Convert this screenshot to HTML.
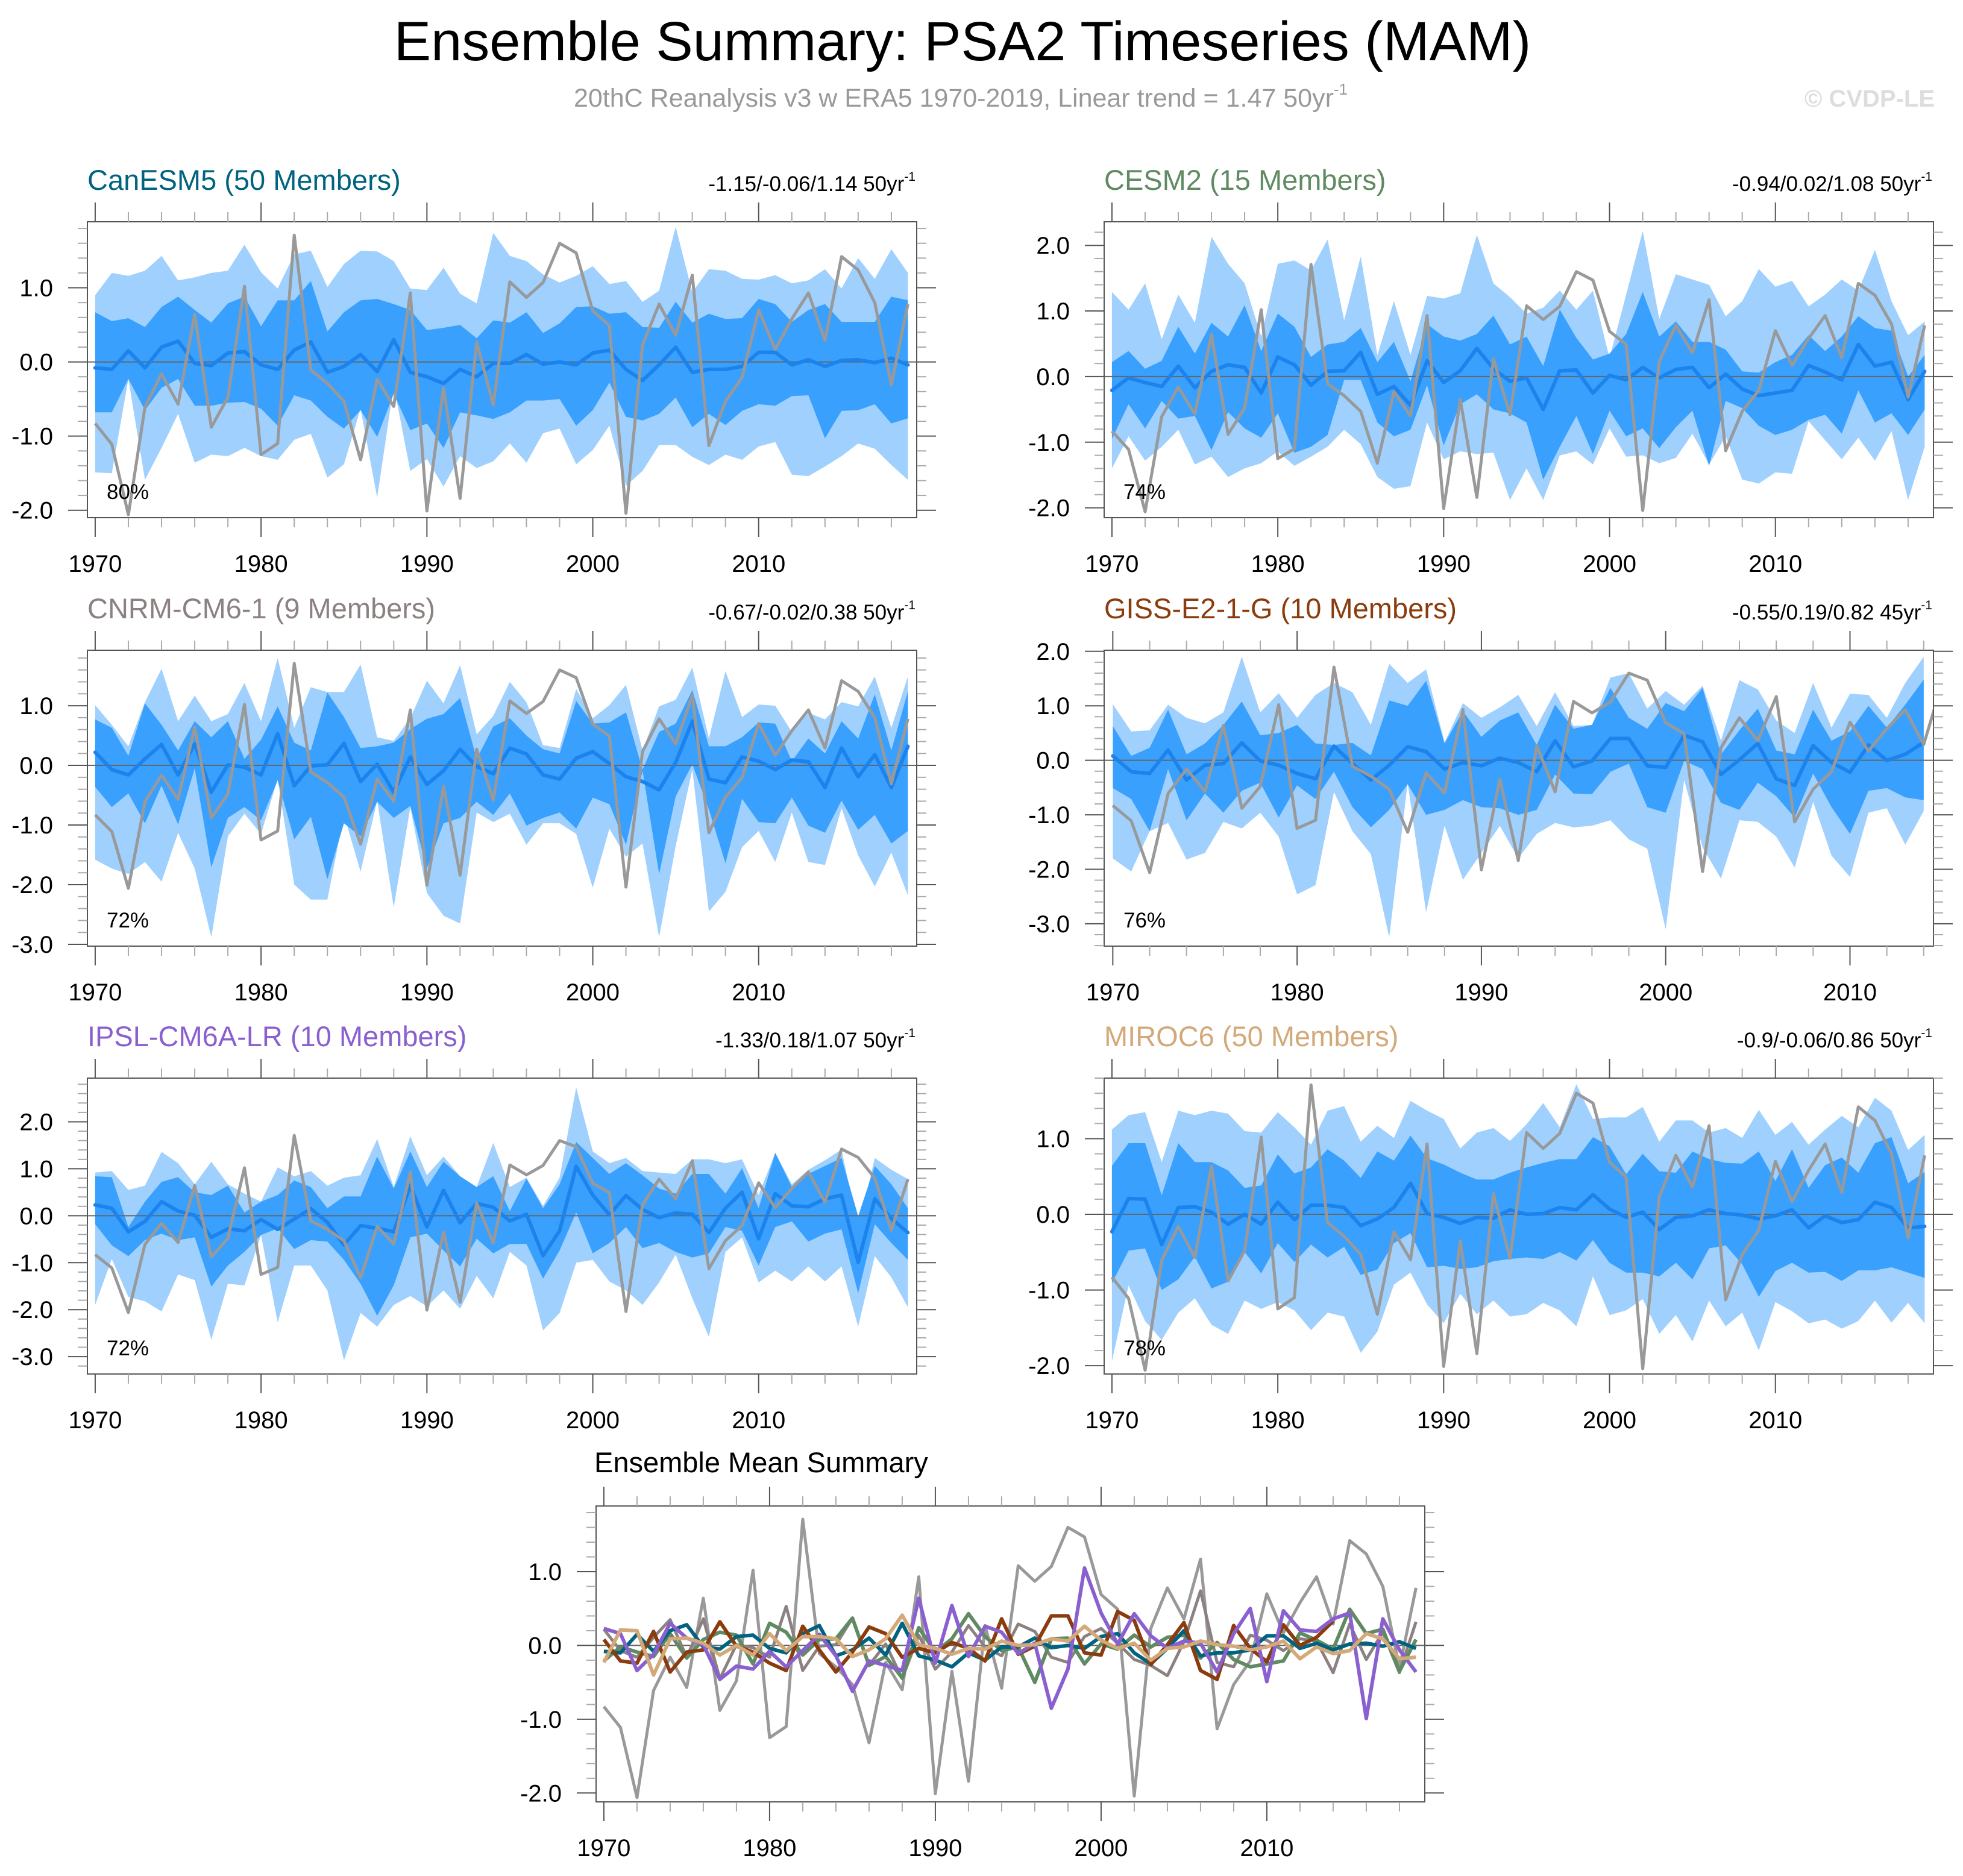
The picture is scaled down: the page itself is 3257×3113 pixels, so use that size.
<!DOCTYPE html>
<html><head><meta charset="utf-8"><title>Ensemble Summary: PSA2 Timeseries (MAM)</title>
<style>
html,body{margin:0;padding:0;background:#fff;}
svg{display:block;font-family:"Liberation Sans",Arial,sans-serif;}
</style></head>
<body>
<svg id="chart" xmlns="http://www.w3.org/2000/svg" width="3257" height="3113" viewBox="0 0 3257 3113">
<rect x="0" y="0" width="3257" height="3113" fill="#fff"/>
<text x="1597" y="100" font-size="92" text-anchor="middle" fill="#000">Ensemble Summary: PSA2 Timeseries (MAM)</text>
<text x="1594" y="177" font-size="43" text-anchor="middle" fill="#999">20thC Reanalysis v3 w ERA5 1970-2019, Linear trend = 1.47 50yr<tspan font-size="26" dy="-20">-1</tspan></text>
<text x="3210" y="177" font-size="40" font-weight="bold" text-anchor="end" fill="#ddd">© CVDP-LE</text>
<g id="panels"></g>
</svg>
<script>
const years = Array.from({length:50},(_,i)=>1970+i);
const obs = [-0.83,-1.11,-2.06,-0.61,-0.16,-0.57,0.64,-0.88,-0.48,1.02,-1.25,-1.10,1.71,-0.11,-0.29,-0.53,-1.32,-0.23,-0.60,0.93,-2.01,-0.35,-1.84,0.27,-0.58,1.08,0.87,1.07,1.60,1.47,0.69,0.49,-2.04,0.23,0.78,0.36,1.17,-1.13,-0.53,-0.21,0.70,0.17,0.58,0.93,0.29,1.42,1.24,0.80,-0.31,0.78];

const canMean = [-0.08,-0.10,0.15,-0.08,0.20,0.28,-0.02,-0.05,0.12,0.14,-0.04,-0.10,0.16,0.27,-0.14,-0.06,0.10,-0.13,0.30,-0.14,-0.20,-0.29,-0.10,-0.20,-0.02,-0.02,0.10,-0.03,0.00,-0.04,0.12,0.16,-0.10,-0.25,-0.04,0.20,-0.14,-0.10,-0.10,-0.06,0.13,0.13,-0.04,0.03,-0.06,0.02,0.03,-0.01,0.05,-0.04];
const canDarkHi = [0.67,0.55,0.59,0.47,0.74,0.88,0.70,0.53,0.79,0.88,0.48,0.83,0.83,1.09,0.41,0.67,0.83,0.85,0.78,0.70,0.43,0.46,0.50,0.32,0.56,0.53,0.67,0.39,0.52,0.74,0.75,0.65,0.67,0.47,0.46,0.81,0.53,0.65,0.58,0.59,0.85,0.78,0.54,0.70,0.78,0.54,0.54,0.54,0.88,0.83];
const canDarkLo = [-0.68,-0.68,-0.23,-0.65,-0.35,-0.23,-0.59,-0.59,-0.55,-0.54,-0.63,-0.86,-0.45,-0.52,-0.74,-0.90,-0.65,-1.01,-0.43,-0.92,-0.83,-1.16,-0.68,-0.72,-0.77,-0.68,-0.52,-0.52,-0.50,-0.86,-0.65,-0.28,-0.74,-0.79,-0.70,-0.48,-0.88,-0.70,-0.85,-0.66,-0.57,-0.59,-0.46,-0.45,-1.03,-0.66,-0.65,-0.57,-0.83,-0.76];
const canLightHi = [0.90,1.20,1.16,1.23,1.43,1.10,1.14,1.20,1.23,1.58,1.21,0.99,1.45,1.50,1.01,1.32,1.50,1.49,1.36,0.99,0.97,1.27,0.92,0.79,1.74,1.43,1.36,1.18,1.07,1.16,1.29,1.05,1.09,0.81,0.96,1.82,0.94,1.25,1.23,1.12,1.11,1.17,1.06,1.10,1.25,0.99,1.40,1.12,1.52,1.20];
const canLightLo = [-1.49,-1.50,-0.23,-1.59,-1.16,-0.70,-1.36,-1.25,-1.27,-1.16,-1.27,-1.32,-1.05,-0.97,-1.56,-1.38,-0.63,-1.83,-0.32,-1.47,-1.31,-1.68,-1.27,-1.43,-1.34,-1.10,-1.36,-0.96,-0.90,-1.38,-1.19,-0.86,-1.67,-1.47,-1.12,-1.12,-1.28,-1.39,-1.25,-1.32,-1.14,-1.08,-1.52,-1.54,-1.41,-1.27,-1.10,-1.17,-1.39,-1.59];

const cesmMean = [-0.21,-0.02,-0.09,-0.15,0.16,-0.17,0.08,0.18,0.14,-0.25,0.30,0.18,-0.13,0.08,0.09,0.37,-0.27,-0.15,-0.44,0.24,-0.09,0.09,0.43,0.12,-0.07,-0.02,-0.50,0.09,0.10,-0.25,0.02,-0.05,0.14,-0.02,0.11,0.14,-0.17,0.04,-0.19,-0.29,-0.25,-0.21,0.17,0.07,-0.05,0.49,0.16,0.22,-0.35,0.08];
const cesmDarkHi = [0.22,0.39,0.12,0.24,0.76,0.35,0.82,0.61,1.09,0.39,0.96,0.76,0.30,0.49,0.53,0.74,0.22,0.53,-0.07,0.80,0.61,0.55,0.65,0.93,0.49,0.61,0.16,1.02,0.59,0.26,0.35,0.65,1.29,0.61,0.84,0.53,0.53,0.41,0.08,0.06,0.22,0.33,0.63,0.39,0.61,0.92,0.74,0.70,0.00,0.33];
const cesmDarkLo = [-0.95,-0.42,-0.79,-0.37,-0.64,-0.60,-1.12,-0.54,-0.79,-0.93,-0.56,-1.16,-1.07,-0.89,-0.05,-0.05,-0.70,-0.91,-0.81,-0.13,-1.05,-0.42,-0.27,-0.50,-0.56,-0.70,-1.57,-1.07,-0.60,-1.18,-0.52,-0.91,-0.79,-1.09,-0.77,-0.52,-1.36,-0.37,-0.48,-0.75,-0.89,-0.81,-0.66,-0.58,-0.87,-0.21,-0.70,-0.56,-0.89,-0.50];
const cesmLightHi = [1.29,1.02,1.42,0.57,1.25,0.82,2.13,1.72,1.42,0.61,1.72,1.77,1.62,2.09,0.86,1.83,0.33,1.15,0.33,1.23,1.19,1.27,2.16,1.42,1.21,0.96,1.05,1.31,1.02,1.31,0.28,1.25,2.22,0.88,1.56,1.48,1.40,0.92,1.15,1.64,1.37,1.46,1.07,1.25,1.48,1.31,1.93,1.15,0.63,0.84];
const cesmLightLo = [-1.40,-0.91,-1.28,-1.07,-0.81,-1.34,-1.22,-1.53,-1.40,-1.32,-1.14,-1.36,-1.22,-1.07,-0.81,-1.03,-1.53,-1.71,-1.67,-0.70,-1.26,-1.14,-1.18,-1.16,-1.88,-1.40,-1.88,-1.20,-1.14,-1.34,-0.79,-1.22,-1.20,-1.32,-1.24,-0.87,-1.34,-0.91,-1.57,-1.63,-1.46,-1.48,-0.68,-0.97,-1.26,-0.93,-1.28,-0.83,-1.88,-1.07];

const cnrmMean = [0.22,-0.07,-0.16,0.11,0.35,-0.16,0.36,-0.45,0.01,-0.03,-0.16,0.53,-0.34,-0.01,0.01,0.37,-0.27,0.02,-0.45,0.14,-0.32,-0.09,0.27,-0.02,-0.14,0.29,0.19,-0.16,-0.23,0.12,0.23,0.03,-0.19,-0.27,-0.41,0.05,0.74,-0.23,-0.29,0.14,0.07,-0.07,0.09,0.06,-0.37,0.29,-0.19,0.18,-0.37,0.32];
const cnrmDarkHi = [0.77,0.63,0.16,1.04,0.68,0.25,0.74,0.47,0.74,0.11,0.43,0.99,0.38,0.25,1.22,0.81,0.29,0.32,0.38,0.61,0.78,0.86,1.13,0.11,0.65,0.79,0.50,0.27,0.20,1.08,0.70,0.72,0.89,-0.07,0.56,0.70,1.26,0.32,0.32,0.47,0.72,0.70,0.07,0.45,0.20,0.74,0.45,1.19,0.25,1.24];
const cnrmDarkLo = [-0.36,-0.70,-0.47,-0.97,-0.34,-0.99,-0.05,-1.71,-0.88,-0.70,-0.92,-0.25,-1.24,-0.86,-1.91,-0.97,-1.19,-0.61,-0.88,-0.68,-1.73,-0.97,-0.88,-0.61,-0.83,-0.47,-1.01,-0.88,-0.79,-1.06,-0.54,-0.65,-1.33,-0.09,-1.82,-0.52,0.02,-0.74,-1.64,-0.56,-0.95,-0.97,-0.54,-1.01,-1.13,-0.59,-1.08,-0.83,-1.31,-1.10];
const cnrmLightHi = [1.01,0.68,0.32,1.06,1.62,0.74,1.17,0.74,0.86,1.38,0.74,1.80,0.63,1.31,1.23,1.23,1.69,0.47,0.41,0.79,1.42,1.04,1.68,0.52,0.83,1.40,1.06,0.34,0.29,1.28,0.79,1.01,1.35,0.25,0.99,1.10,1.64,0.45,1.58,0.81,1.02,1.00,0.56,0.88,0.77,1.06,0.99,1.49,0.63,1.49];
const cnrmLightLo = [-1.58,-1.73,-1.82,-1.62,-1.95,-1.13,-1.73,-2.88,-1.19,-0.81,-1.15,-0.23,-2.00,-2.25,-2.25,-0.83,-1.78,-0.59,-2.38,-0.70,-2.14,-2.52,-2.65,-0.79,-0.95,-0.81,-1.33,-0.97,-0.97,-1.15,-2.05,-1.06,-1.53,-1.31,-2.88,-1.35,-0.07,-2.45,-2.12,-1.37,-1.10,-1.62,-0.79,-1.62,-1.67,-0.72,-1.51,-2.03,-1.46,-2.18];

const gissMean = [0.08,-0.21,-0.24,0.19,-0.36,-0.09,-0.06,0.32,-0.01,-0.09,-0.24,-0.34,0.26,-0.06,-0.36,-0.09,0.25,0.16,-0.16,-0.04,-0.10,0.04,-0.04,-0.21,0.36,-0.12,-0.01,0.40,0.40,-0.10,-0.13,0.46,0.34,-0.26,0.01,0.31,-0.34,-0.46,0.27,-0.04,-0.22,0.28,0.00,0.11,0.33];
const gissDarkHi = [0.63,0.08,0.23,0.93,0.11,0.31,0.65,1.08,0.46,0.50,0.65,0.31,0.28,0.32,0.09,1.10,1.00,1.46,0.31,0.90,0.43,0.73,0.88,0.28,1.02,0.58,0.65,1.33,0.78,0.58,1.05,0.90,1.33,0.11,0.55,0.95,0.18,0.11,0.93,0.36,0.53,1.00,0.60,1.02,1.48];
const gissDarkLo = [-0.51,-0.71,-1.30,-0.16,-1.10,-0.61,-0.96,-0.56,-0.41,-1.05,-0.46,-0.71,-0.21,-0.86,-1.23,-0.91,-0.44,-1.00,-0.91,-0.73,-0.86,-0.88,-1.00,-0.91,-0.26,-0.61,-0.62,-0.21,-0.06,-0.86,-0.96,-0.01,-0.16,-0.78,-0.91,-0.41,-0.66,-1.05,-0.24,-0.86,-1.35,-0.56,-0.51,-0.68,-0.73];
const gissLightHi = [1.03,0.53,0.55,1.02,0.78,0.68,0.88,1.90,0.88,1.23,0.78,1.20,1.42,1.25,0.65,1.77,1.42,1.67,0.33,1.05,0.78,0.97,1.20,0.63,1.25,0.63,0.65,1.52,1.60,0.95,1.27,1.02,1.37,0.36,1.47,1.30,0.73,0.50,1.42,0.60,1.22,1.20,0.78,1.42,1.90];
const gissLightLo = [-1.80,-2.04,-1.30,-1.15,-1.82,-1.70,-1.13,-1.25,-0.96,-1.40,-2.46,-2.29,-0.58,-1.30,-1.72,-3.25,-0.41,-2.79,-1.20,-2.19,-1.70,-1.20,-1.80,-1.35,-1.15,-1.23,-1.20,-1.10,-1.45,-1.62,-3.10,-0.36,-1.60,-2.17,-1.10,-1.13,-1.40,-1.97,-0.76,-1.75,-2.14,-0.96,-0.88,-1.55,-0.93];

const ipslMean = [0.23,0.16,-0.34,-0.12,0.30,0.10,0.01,-0.46,-0.28,-0.32,-0.08,-0.29,-0.07,0.15,-0.14,-0.62,-0.21,-0.27,-0.34,0.64,-0.24,0.54,-0.15,0.26,0.18,-0.11,0.03,-0.85,-0.32,1.05,0.44,0.02,0.43,0.13,-0.04,0.06,0.03,-0.36,0.16,0.50,-0.49,0.47,0.21,0.19,0.36,0.44,-0.99,0.36,-0.06,-0.36];
const ipslDarkHi = [0.84,0.82,-0.24,0.30,0.72,0.82,0.50,0.44,0.64,0.07,0.30,0.44,0.75,0.61,0.16,0.41,0.41,1.26,0.58,1.37,0.61,1.15,0.84,0.61,0.84,0.10,0.79,0.16,0.67,1.57,1.23,0.89,1.12,0.86,0.58,0.47,0.89,0.89,0.47,1.01,0.16,1.34,0.61,0.89,1.06,1.23,-0.01,1.06,0.67,0.16];
const ipslDarkLo = [-0.18,-0.63,-0.86,-0.52,-0.38,-0.52,-0.46,-1.51,-1.06,-0.77,-0.41,-0.27,-0.71,-0.52,-0.55,-0.94,-1.45,-2.13,-1.48,-0.46,-0.38,-0.74,-1.08,-0.49,-0.80,-0.60,-0.60,-1.34,-0.74,0.07,-0.80,-0.58,-0.24,-0.69,-0.58,-0.77,-0.89,-0.80,-0.24,-0.32,-1.06,-0.24,-0.12,-0.55,-0.38,-0.29,-1.65,-0.18,-0.58,-0.94];
const ipslLightHi = [0.92,0.95,0.55,0.64,1.36,1.12,0.67,1.15,0.67,0.47,0.30,1.03,0.84,0.95,0.64,0.81,0.86,1.63,0.61,1.69,0.86,1.26,0.84,0.61,1.55,0.61,0.81,0.21,0.81,2.73,1.37,1.12,1.23,0.95,0.92,0.89,1.20,1.20,1.12,1.20,0.44,1.34,0.67,0.98,1.18,1.41,-0.29,1.23,0.98,0.78];
const ipslLightLo = [-1.90,-0.92,-1.73,-1.82,-2.04,-1.25,-1.37,-2.64,-1.45,-1.48,-0.41,-2.27,-1.06,-1.06,-1.59,-3.08,-2.07,-2.36,-1.90,-1.71,-1.93,-1.59,-1.98,-1.28,-1.76,-0.77,-1.06,-2.44,-2.07,-1.00,-0.94,-1.40,-1.59,-1.90,-1.42,-0.83,-1.76,-2.58,-0.77,-0.46,-1.42,-1.17,-1.40,-1.08,-1.40,-1.08,-2.36,-0.86,-1.31,-1.95];

const mirocMean = [-0.23,0.21,0.20,-0.40,0.09,0.10,0.03,-0.13,0.00,-0.13,0.16,-0.07,0.12,0.12,0.09,-0.15,-0.06,0.09,0.41,0.01,-0.04,-0.12,-0.04,-0.05,0.06,0.00,0.01,0.09,0.06,0.26,0.07,-0.04,0.03,-0.20,-0.04,-0.02,0.06,0.01,-0.01,-0.06,-0.02,0.06,-0.18,-0.02,-0.11,-0.07,0.16,0.09,-0.18,-0.16];
const mirocDarkHi = [0.64,0.94,0.94,0.25,0.94,0.69,0.69,0.58,0.35,0.38,0.79,0.54,0.62,0.86,0.71,0.48,0.83,0.71,1.04,0.74,0.66,0.55,0.46,0.46,0.55,0.62,0.68,0.73,0.73,1.02,0.90,0.53,0.80,0.57,0.55,0.83,0.73,0.68,0.67,0.83,0.44,0.86,0.35,0.65,0.75,0.55,0.94,1.02,0.41,0.56];
const mirocDarkLo = [-0.91,-0.48,-0.45,-1.00,-0.86,-0.56,-0.98,-0.89,-0.50,-0.78,-0.38,-0.63,-0.40,-0.57,-0.43,-0.80,-0.73,-0.38,-0.25,-0.70,-0.68,-0.72,-0.70,-0.62,-0.59,-0.57,-0.59,-0.50,-0.61,-0.34,-0.64,-0.77,-0.77,-0.82,-0.64,-0.86,-0.45,-0.41,-0.66,-1.09,-0.75,-0.64,-0.77,-0.76,-0.88,-0.74,-0.74,-0.70,-0.77,-0.84];
const mirocLightHi = [1.12,1.31,1.35,0.69,1.37,1.31,1.37,1.33,1.10,1.08,1.35,1.15,0.92,1.37,1.43,0.96,1.17,1.01,1.50,1.37,1.26,0.87,1.08,1.14,0.97,1.19,1.47,1.15,1.72,1.26,1.28,1.28,1.42,0.96,1.24,1.24,1.08,1.14,1.01,1.38,1.05,1.22,0.92,1.12,1.30,1.15,1.54,1.37,0.85,1.05];
const mirocLightLo = [-1.94,-0.94,-1.41,-1.66,-1.30,-1.11,-1.46,-1.58,-1.14,-1.25,-1.16,-1.27,-1.53,-1.30,-1.35,-1.83,-1.55,-0.93,-0.77,-1.19,-1.44,-1.05,-1.32,-1.14,-1.35,-1.32,-1.17,-1.27,-1.48,-0.82,-1.33,-1.27,-1.12,-1.58,-1.33,-1.68,-1.14,-1.48,-1.30,-1.80,-1.16,-1.28,-1.44,-1.39,-1.51,-1.41,-1.14,-1.43,-1.17,-1.44];

const modelNames = ["CanESM5 (50 Members)","CESM2 (15 Members)","CNRM-CM6-1 (9 Members)","GISS-E2-1-G (10 Members)","IPSL-CM6A-LR (10 Members)","MIROC6 (50 Members)"];
const trendLabels = ["-1.15/-0.06/1.14 50yr","-0.94/0.02/1.08 50yr","-0.67/-0.02/0.38 50yr","-0.55/0.19/0.82 45yr","-1.33/0.18/1.07 50yr","-0.9/-0.06/0.86 50yr"];
const pctLabels = ["80%","74%","72%","76%","72%","78%"];
const yLimits = [[-2.1,1.89],[-2.15,2.36],[-3.03,1.93],[-3.41,2.02],[-3.37,2.93],[-2.11,1.80]];
const xTickYears = [1970,1980,1990,2000,2010];

const NS="http://www.w3.org/2000/svg";
const root=document.getElementById('panels');
function mk(tag,attrs,parent){const e=document.createElementNS(NS,tag);for(const k in attrs)e.setAttribute(k,attrs[k]);(parent||root).appendChild(e);return e;}

const colors=["#00637f","#5f8a62","#8c8181","#8a3c0e","#8a5fd0","#d3a97a"];
const models=[
 {mean:canMean,dh:canDarkHi,dl:canDarkLo,lh:canLightHi,ll:canLightLo},
 {mean:cesmMean,dh:cesmDarkHi,dl:cesmDarkLo,lh:cesmLightHi,ll:cesmLightLo},
 {mean:cnrmMean,dh:cnrmDarkHi,dl:cnrmDarkLo,lh:cnrmLightHi,ll:cnrmLightLo},
 {mean:gissMean,dh:gissDarkHi,dl:gissDarkLo,lh:gissLightHi,ll:gissLightLo},
 {mean:ipslMean,dh:ipslDarkHi,dl:ipslDarkLo,lh:ipslLightHi,ll:ipslLightLo},
 {mean:mirocMean,dh:mirocDarkHi,dl:mirocDarkLo,lh:mirocLightHi,ll:mirocLightLo}
];
const boxes=[[145,368],[1832,368],[145,1079],[1832,1079],[145,1789],[1832,1789]];
const BW=1376, BH=491;

function axes(g,L,T,W,H,xs,ys,x0,x1,ymin,ymax,name){
  // minor/major y ticks
  for(let k=Math.ceil(ymin/0.2-1e-6);k<=Math.floor(ymax/0.2+1e-6);k++){
    const v=k*0.2, y=ys(v), major=(k%5===0), len=major?32:16;
    const t1=mk('line',{x1:L-len,y1:y,x2:L,y2:y,stroke:major?'#555':'#aaa','stroke-width':2},g);
    
    
    const t2=mk('line',{x1:L+W,y1:y,x2:L+W+len,y2:y,stroke:major?'#555':'#aaa','stroke-width':2},g);
    
    
    if(major){
      const lab=mk('text',{x:L-57,y:y+14,'font-size':40,'text-anchor':'end',fill:'#000'},g);
      
      
      lab.textContent=(Math.abs(v)<1e-9?0:v).toFixed(1);
    }
  }
  for(let yr=1970; yr<=x1; yr+=2){
    const x=xs(yr), major=(yr%10===0), len=major?32:16;
    const a=mk('line',{x1:x,y1:T-len,x2:x,y2:T,stroke:major?'#555':'#aaa','stroke-width':2},g);
    
    
    const b=mk('line',{x1:x,y1:T+H,x2:x,y2:T+H+len,stroke:major?'#555':'#aaa','stroke-width':2},g);
    
    
  }
  xTickYears.forEach(yr=>{
    if(yr>x1) return;
    const lab=mk('text',{x:xs(yr),y:T+H+90,'font-size':40,'text-anchor':'middle',fill:'#000'},g);
    
    
    lab.textContent=yr;
  });
}
function linePath(xs,ys,vals){return vals.map((v,i)=>(i?'L':'M')+xs(years[i]).toFixed(1)+' '+ys(v).toFixed(1)).join(' ');}
function bandPath(xs,ys,hi,lo){
  let d=hi.map((v,i)=>(i?'L':'M')+xs(years[i]).toFixed(1)+' '+ys(v).toFixed(1)).join(' ');
  for(let i=lo.length-1;i>=0;i--) d+=' L'+xs(years[i]).toFixed(1)+' '+ys(lo[i]).toFixed(1);
  return d+' Z';
}

models.forEach((m,p)=>{
  const [L,T]=boxes[p], W=BW, H=BH;
  const n=m.mean.length, lastYear=1970+n-1;
  const x0=1969.53, x1=lastYear+0.53;
  const [ymin,ymax]=yLimits[p];
  const xs=yr=>L+(yr-x0)/(x1-x0)*W;
  const ys=v=>T+(ymax-v)/(ymax-ymin)*H;
  const g=mk('g',{});
  
  
  const cp=mk('clipPath',{id:'clip'+p},g);
  mk('rect',{x:L,y:T,width:W,height:H},cp);
  const pg=mk('g',{'clip-path':'url(#clip'+p+')'},g);
  const lb=mk('path',{d:bandPath(xs,ys,m.lh,m.ll),fill:'#9fd0fe'},pg);
  
  
  const db=mk('path',{d:bandPath(xs,ys,m.dh,m.dl),fill:'#39a0fe'},pg);
  
  
  const zl=mk('line',{x1:L,y1:ys(0),x2:L+W,y2:ys(0),stroke:'#666','stroke-width':2},pg);
  
  
  const ml=mk('path',{d:linePath(xs,ys,m.mean),fill:'none',stroke:'#1c82ec','stroke-width':6,'stroke-linejoin':'round','stroke-linecap':'round'},pg);
  
  
  const ol=mk('path',{d:linePath(xs,ys,obs),fill:'none',stroke:'#999','stroke-width':5,'stroke-linejoin':'round'},pg);
  
  
  const box=mk('rect',{x:L,y:T,width:W,height:H,fill:'none',stroke:'#555','stroke-width':2},g);
  
  
  axes(g,L,T,W,H,xs,ys,x0,x1,ymin,ymax,'panel-'+(p+1));
  const tt=mk('text',{x:L,y:T-53,'font-size':47,fill:colors[p]},g);
  
  
  tt.textContent=modelNames[p];
  const tr=mk('text',{x:L+W-2,y:T-51,'font-size':35,'text-anchor':'end',fill:'#000'},g);
  
  
  tr.textContent=trendLabels[p];
  const sup=mk('tspan',{'font-size':21,dy:-17},tr);
  sup.textContent='-1';
  const pc=mk('text',{x:L+32,y:T+H-31,'font-size':35,fill:'#000'},g);
  
  
  pc.textContent=pctLabels[p];
});

// Ensemble mean summary panel
(function(){
  const L=989,T=2499,W=1375,H=491, x0=1969.53, x1=2019.53, ymin=-2.12, ymax=1.89;
  const xs=yr=>L+(yr-x0)/(x1-x0)*W;
  const ys=v=>T+(ymax-v)/(ymax-ymin)*H;
  const g=mk('g',{});
  
  
  const cp=mk('clipPath',{id:'clipS'},g);
  mk('rect',{x:L,y:T,width:W,height:H},cp);
  const pg=mk('g',{'clip-path':'url(#clipS)'},g);
  const zl=mk('line',{x1:L,y1:ys(0),x2:L+W,y2:ys(0),stroke:'#666','stroke-width':2},pg);
  
  
  const ol=mk('path',{d:linePath(xs,ys,obs),fill:'none',stroke:'#999','stroke-width':5,'stroke-linejoin':'round'},pg);
  
  
  const order=[2,1,0,3,4,5];
  order.forEach(p=>{
    const l=mk('path',{d:linePath(xs,ys,models[p].mean),fill:'none',stroke:colors[p],'stroke-width':p===2?5:6,'stroke-linejoin':'round'},pg);
    
    
  });
  const box=mk('rect',{x:L,y:T,width:W,height:H,fill:'none',stroke:'#555','stroke-width':2},g);
  
  
  axes(g,L,T,W,H,xs,ys,x0,x1,ymin,ymax,'summary');
  const tt=mk('text',{x:986,y:2443,'font-size':47,fill:'#000'},g);
  
  
  tt.textContent='Ensemble Mean Summary';
})();
</script>
</body></html>
